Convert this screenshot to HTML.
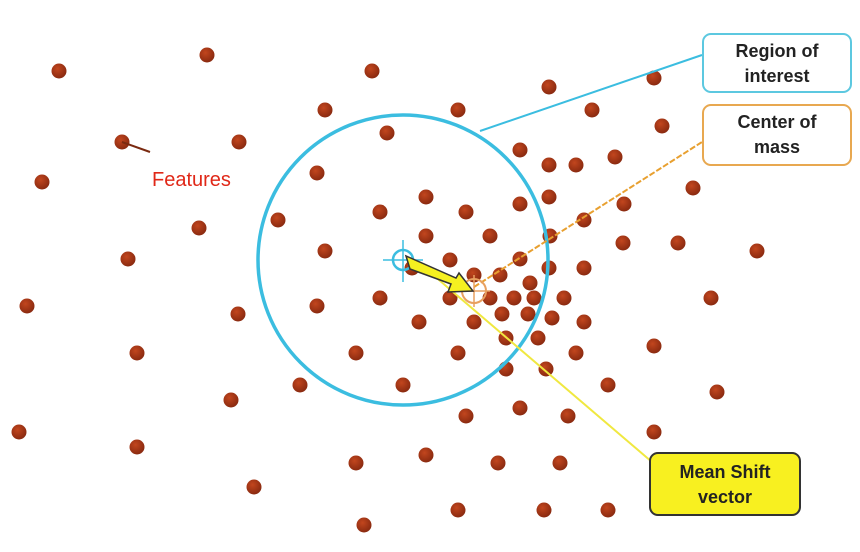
<!DOCTYPE html>
<html><head><style>
body{margin:0;background:#fff;width:860px;height:552px;overflow:hidden;font-family:"Liberation Sans",Arial,sans-serif}
.box{position:absolute;border-radius:9px;background:#fff;text-align:center;font-weight:bold;font-size:18px;line-height:25px;color:#222;box-sizing:border-box;padding-top:4px}
</style></head><body>
<svg width="860" height="552" style="position:absolute;left:0;top:0">
<defs><radialGradient id="g" cx="40%" cy="35%" r="65%"><stop offset="0" stop-color="#c2461e"/><stop offset="1" stop-color="#8a2a10"/></radialGradient></defs>
<g id="dots" fill="#a83a16"></g>
<circle cx="403" cy="260" r="145" fill="none" stroke="#3bbde0" stroke-width="3.5"/>
<line x1="480" y1="131" x2="702" y2="55" stroke="#3bbde0" stroke-width="2"/>
<line x1="474" y1="287" x2="702" y2="142" stroke="#e8a030" stroke-width="2" stroke-dasharray="6,2"/>
<line x1="432" y1="274" x2="652" y2="462" stroke="#f0e840" stroke-width="2"/>
<line x1="122" y1="142" x2="150" y2="152" stroke="#7a2a10" stroke-width="2"/>
<circle cx="474" cy="291" r="12" fill="none" stroke="#e8a060" stroke-width="2"/>
<line x1="458" y1="291" x2="490" y2="291" stroke="#e8a060" stroke-width="1.5"/>
<line x1="474" y1="275" x2="474" y2="307" stroke="#e8a060" stroke-width="1.5"/>
<circle cx="403" cy="260" r="10" fill="none" stroke="#3bbde0" stroke-width="2.5"/>
<line x1="383" y1="260" x2="423" y2="260" stroke="#3bbde0" stroke-width="1.5"/>
<line x1="403" y1="240" x2="403" y2="282" stroke="#3bbde0" stroke-width="1.5"/>
<polygon points="406,256 410,269 451,284 448,292 473,291 459,273 456,278" fill="#f5f020" stroke="#333" stroke-width="1.5"/>
</svg>
<div style="position:absolute;left:152px;top:169px;color:#e02818;font-size:20px">Features</div>
<div class="box" style="left:702px;top:33px;width:150px;height:60px;border:2.5px solid #5cc8e0">Region of<br>interest</div>
<div class="box" style="left:702px;top:104px;width:150px;height:62px;border:2.5px solid #e8a850">Center of<br>mass</div>
<div class="box" style="left:649px;top:452px;width:152px;height:64px;border:2px solid #333;background:#f8f020;padding-top:6px">Mean Shift<br>vector</div>
<script>
var d=[[59,71],[207,55],[372,71],[549,87],[654,78],[325,110],[458,110],[592,110],[662,126],[122,142],[239,142],[387,133],[520,150],[576,165],[615,157],[42,182],[317,173],[549,165],[693,188],[426,197],[466,212],[380,212],[520,204],[549,197],[624,204],[199,228],[278,220],[426,236],[490,236],[584,220],[550,236],[623,243],[678,243],[757,251],[128,259],[325,251],[450,260],[412,268],[520,259],[549,268],[584,268],[474,275],[500,275],[530,283],[27,306],[317,306],[380,298],[450,298],[490,298],[514,298],[534,298],[564,298],[711,298],[238,314],[419,322],[474,322],[502,314],[528,314],[552,318],[584,322],[137,353],[356,353],[458,353],[506,338],[538,338],[576,353],[654,346],[300,385],[403,385],[506,369],[546,369],[608,385],[231,400],[717,392],[466,416],[520,408],[568,416],[19,432],[137,447],[654,432],[426,455],[356,463],[498,463],[560,463],[254,487],[458,510],[544,510],[608,510],[364,525]];
var g=document.getElementById('dots'),s='';
d.forEach(function(p){s+='<circle cx="'+p[0]+'" cy="'+p[1]+'" r="7.5" fill="url(#g)"/>';});
g.innerHTML=s;
</script>
</body></html>
